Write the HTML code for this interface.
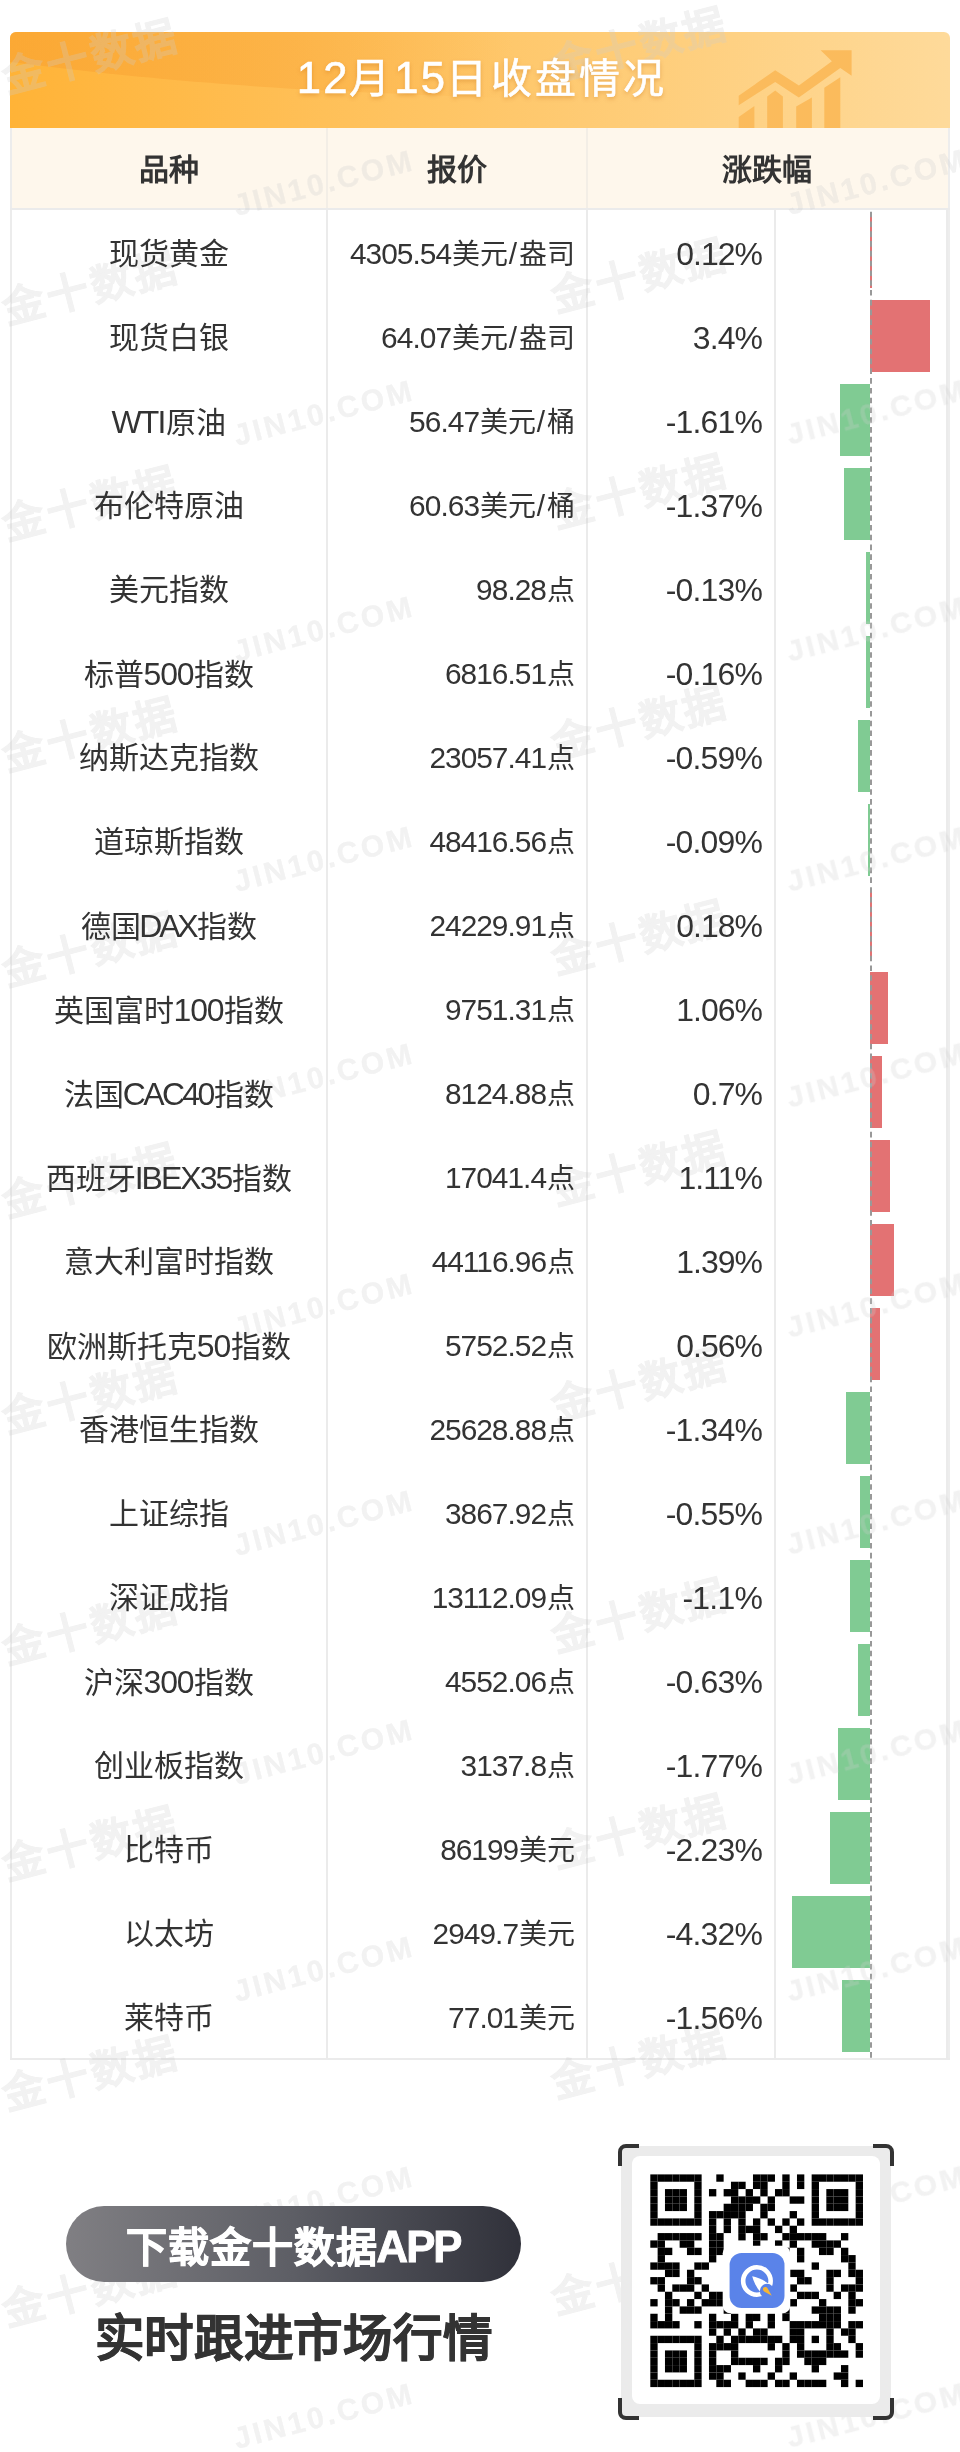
<!DOCTYPE html>
<html lang="zh-CN">
<head>
<meta charset="utf-8">
<title>12月15日收盘情况</title>
<style>
html,body{margin:0;padding:0;background:#fff;}
body{width:960px;height:2452px;position:relative;overflow:hidden;font-family:"Liberation Sans",sans-serif;color:#333;}
.abs{position:absolute;}
#hdr{position:absolute;left:10px;top:32px;width:940px;height:96px;border-radius:6px 6px 0 0;overflow:hidden;}
#hdr svg{position:absolute;left:0;top:0;}
#title{position:absolute;z-index:2;left:1.5px;top:-2.5px;width:940px;height:96px;line-height:96px;text-align:center;color:#fff;font-size:41px;font-weight:500;-webkit-text-stroke:0.6px #fff;text-shadow:0 2px 4px rgba(180,90,0,0.35);}
#thead{position:absolute;left:10px;top:128px;width:940px;height:80px;background:#FEF7EC;}
.th{position:absolute;z-index:2;top:130px;height:80px;line-height:80px;text-align:center;font-size:30px;font-weight:bold;color:#333;}
.c1,.c2,.c3{position:absolute;z-index:2;height:84px;line-height:84px;font-size:30px;color:#333;white-space:nowrap;}
.c1{left:12px;width:314px;text-align:center;}
.c2{left:329.5px;width:245px;text-align:right;font-size:28px;}
.c3{left:589.5px;width:173px;text-align:right;}
.vl{position:absolute;width:2px;background:#EBEBEB;}
.hl{position:absolute;height:2px;background:#EBEBEB;}
.bar{position:absolute;height:72px;}
.bar.g{background:#80CB93;}
.bar.r{background:#E37273;}
#pill{position:absolute;z-index:3;left:66px;top:2206px;width:455px;height:76px;border-radius:38px;background:linear-gradient(90deg,#807f83 0%,#5d5e65 50%,#30313a 100%);}
#pilltxt{position:absolute;z-index:3;left:66px;top:2209px;width:455px;height:76px;color:#fff;font-size:41px;font-weight:bold;-webkit-text-stroke:0.9px #fff;text-align:center;line-height:76px;}
#slogan{position:absolute;z-index:3;left:66px;top:2304px;width:455px;height:70px;line-height:70px;text-align:center;font-size:49.5px;font-weight:bold;-webkit-text-stroke:0.6px #333;color:#333;letter-spacing:0.7px;}
.wm{position:absolute;width:0;height:0;z-index:1;}
.wm span{position:absolute;left:0;top:0;transform:translate(-50%,-50%) rotate(-14.5deg);white-space:nowrap;font-weight:bold;color:#CDCDCD;opacity:0.27;-webkit-text-stroke:0.8px #CDCDCD;}
.wm1 span{font-size:42px;letter-spacing:3px;}
.wm2 span{font-size:30px;letter-spacing:3px;-webkit-text-stroke:0.3px #CDCDCD;}
</style>
</head>
<body>
<div id="root" style="position:absolute;left:0;top:0;width:960px;height:2452px;will-change:transform">
<div id="hdr">
<svg width="940" height="96" viewBox="0 0 940 96">
<defs>
<linearGradient id="hg" x1="0" y1="0" x2="1" y2="0">
<stop offset="0" stop-color="#FFB337"/>
<stop offset="1" stop-color="#FEDA9A"/>
</linearGradient>
<linearGradient id="wg" x1="0" y1="0" x2="1" y2="0">
<stop offset="0" stop-color="#F8A032" stop-opacity="0.55"/>
<stop offset="0.4" stop-color="#F8A032" stop-opacity="0.35"/>
<stop offset="0.7" stop-color="#F8A032" stop-opacity="0"/>
</linearGradient>
</defs>
<rect width="940" height="96" fill="url(#hg)"/>
<path d="M0 0 H720 V72 C600 70 420 64 290 57.2 C190 51 110 44 0 30 Z" fill="url(#wg)"/>
<g fill="#FBBB5C" transform="translate(-10,-32)">
<polygon points="738.7,95.7 775.2,70.2 798.9,85.5 831.9,61.2 820.6,50.2 851.6,50.2 851.6,75.7 840.3,68.1 798.8,97.4 775.2,81.9 738.7,105.2"/>
<polygon points="738.7,116.9 754.4,106 754.4,128 738.7,128"/>
<polygon points="767.2,96.5 775.2,90.6 782.9,96.5 782.9,128 767.2,128"/>
<polygon points="796.2,106.4 811.9,97.6 811.9,128 796.2,128"/>
<polygon points="824.3,87.8 840.3,77.2 840.3,128 824.3,128"/>
</g>
</svg>
<div id="title"><span style="font-size:43.68px;letter-spacing:2.33px;margin-left:1.16px;margin-right:-1.16px">12</span><span style="letter-spacing:3.25px">月</span><span style="font-size:43.68px;letter-spacing:2.33px;margin-left:1.16px;margin-right:-1.16px">15</span><span style="letter-spacing:3.25px">日收盘情况</span></div>
</div>
<div id="thead"></div>
<div class="th" style="left:12px;width:314px">品种</div>
<div class="th" style="left:328px;width:258px">报价</div>
<div class="th" style="left:588px;width:358px">涨跌幅</div>
<div class="c1" style="top:212px">现货黄金</div><div class="c2" style="top:212px"><span style="font-size:29.83px;letter-spacing:-0.97px;margin-left:-0.49px;margin-right:0.49px">4305.54</span>美元<span style="font-size:29.83px;letter-spacing:2.69px;margin-left:1.34px;margin-right:-1.34px">/</span>盎司</div><div class="c3" style="top:212px"><span style="font-size:31.96px;letter-spacing:-0.94px;margin-left:-0.47px;margin-right:0.47px">0.12%</span></div>
<div class="c1" style="top:296px">现货白银</div><div class="c2" style="top:296px"><span style="font-size:29.83px;letter-spacing:-0.94px;margin-left:-0.47px;margin-right:0.47px">64.07</span>美元<span style="font-size:29.83px;letter-spacing:2.69px;margin-left:1.34px;margin-right:-1.34px">/</span>盎司</div><div class="c3" style="top:296px"><span style="font-size:31.96px;letter-spacing:-0.90px;margin-left:-0.45px;margin-right:0.45px">3.4%</span></div>
<div class="c1" style="top:380px"><span style="font-size:31.96px;letter-spacing:-1.82px;margin-left:-0.91px;margin-right:0.91px">WTI</span>原油</div><div class="c2" style="top:380px"><span style="font-size:29.83px;letter-spacing:-0.94px;margin-left:-0.47px;margin-right:0.47px">56.47</span>美元<span style="font-size:29.83px;letter-spacing:2.69px;margin-left:1.34px;margin-right:-1.34px">/</span>桶</div><div class="c3" style="top:380px"><span style="font-size:31.96px;letter-spacing:-0.82px;margin-left:-0.41px;margin-right:0.41px">-1.61%</span></div>
<div class="c1" style="top:464px">布伦特原油</div><div class="c2" style="top:464px"><span style="font-size:29.83px;letter-spacing:-0.94px;margin-left:-0.47px;margin-right:0.47px">60.63</span>美元<span style="font-size:29.83px;letter-spacing:2.69px;margin-left:1.34px;margin-right:-1.34px">/</span>桶</div><div class="c3" style="top:464px"><span style="font-size:31.96px;letter-spacing:-0.82px;margin-left:-0.41px;margin-right:0.41px">-1.37%</span></div>
<div class="c1" style="top:548px">美元指数</div><div class="c2" style="top:548px"><span style="font-size:29.83px;letter-spacing:-0.94px;margin-left:-0.47px;margin-right:0.47px">98.28</span>点</div><div class="c3" style="top:548px"><span style="font-size:31.96px;letter-spacing:-0.82px;margin-left:-0.41px;margin-right:0.41px">-0.13%</span></div>
<div class="c1" style="top:632px">标普<span style="font-size:31.96px;letter-spacing:-1.13px;margin-left:-0.56px;margin-right:0.56px">500</span>指数</div><div class="c2" style="top:632px"><span style="font-size:29.83px;letter-spacing:-0.97px;margin-left:-0.49px;margin-right:0.49px">6816.51</span>点</div><div class="c3" style="top:632px"><span style="font-size:31.96px;letter-spacing:-0.82px;margin-left:-0.41px;margin-right:0.41px">-0.16%</span></div>
<div class="c1" style="top:716px">纳斯达克指数</div><div class="c2" style="top:716px"><span style="font-size:29.83px;letter-spacing:-0.98px;margin-left:-0.49px;margin-right:0.49px">23057.41</span>点</div><div class="c3" style="top:716px"><span style="font-size:31.96px;letter-spacing:-0.82px;margin-left:-0.41px;margin-right:0.41px">-0.59%</span></div>
<div class="c1" style="top:800px">道琼斯指数</div><div class="c2" style="top:800px"><span style="font-size:29.83px;letter-spacing:-0.98px;margin-left:-0.49px;margin-right:0.49px">48416.56</span>点</div><div class="c3" style="top:800px"><span style="font-size:31.96px;letter-spacing:-0.82px;margin-left:-0.41px;margin-right:0.41px">-0.09%</span></div>
<div class="c1" style="top:884px">德国<span style="font-size:31.96px;letter-spacing:-3.22px;margin-left:-1.61px;margin-right:1.61px">DAX</span>指数</div><div class="c2" style="top:884px"><span style="font-size:29.83px;letter-spacing:-0.98px;margin-left:-0.49px;margin-right:0.49px">24229.91</span>点</div><div class="c3" style="top:884px"><span style="font-size:31.96px;letter-spacing:-0.94px;margin-left:-0.47px;margin-right:0.47px">0.18%</span></div>
<div class="c1" style="top:968px">英国富时<span style="font-size:31.96px;letter-spacing:-1.13px;margin-left:-0.56px;margin-right:0.56px">100</span>指数</div><div class="c2" style="top:968px"><span style="font-size:29.83px;letter-spacing:-0.97px;margin-left:-0.49px;margin-right:0.49px">9751.31</span>点</div><div class="c3" style="top:968px"><span style="font-size:31.96px;letter-spacing:-0.94px;margin-left:-0.47px;margin-right:0.47px">1.06%</span></div>
<div class="c1" style="top:1052px">法国<span style="font-size:31.96px;letter-spacing:-2.64px;margin-left:-1.32px;margin-right:1.32px">CAC40</span>指数</div><div class="c2" style="top:1052px"><span style="font-size:29.83px;letter-spacing:-0.97px;margin-left:-0.49px;margin-right:0.49px">8124.88</span>点</div><div class="c3" style="top:1052px"><span style="font-size:31.96px;letter-spacing:-0.90px;margin-left:-0.45px;margin-right:0.45px">0.7%</span></div>
<div class="c1" style="top:1136px">西班牙<span style="font-size:31.96px;letter-spacing:-1.95px;margin-left:-0.98px;margin-right:0.98px">IBEX35</span>指数</div><div class="c2" style="top:1136px"><span style="font-size:29.83px;letter-spacing:-0.97px;margin-left:-0.49px;margin-right:0.49px">17041.4</span>点</div><div class="c3" style="top:1136px"><span style="font-size:31.96px;letter-spacing:-0.94px;margin-left:-0.47px;margin-right:0.47px">1.11%</span></div>
<div class="c1" style="top:1220px">意大利富时指数</div><div class="c2" style="top:1220px"><span style="font-size:29.83px;letter-spacing:-0.98px;margin-left:-0.49px;margin-right:0.49px">44116.96</span>点</div><div class="c3" style="top:1220px"><span style="font-size:31.96px;letter-spacing:-0.94px;margin-left:-0.47px;margin-right:0.47px">1.39%</span></div>
<div class="c1" style="top:1304px">欧洲斯托克<span style="font-size:31.96px;letter-spacing:-1.13px;margin-left:-0.56px;margin-right:0.56px">50</span>指数</div><div class="c2" style="top:1304px"><span style="font-size:29.83px;letter-spacing:-0.97px;margin-left:-0.49px;margin-right:0.49px">5752.52</span>点</div><div class="c3" style="top:1304px"><span style="font-size:31.96px;letter-spacing:-0.94px;margin-left:-0.47px;margin-right:0.47px">0.56%</span></div>
<div class="c1" style="top:1388px">香港恒生指数</div><div class="c2" style="top:1388px"><span style="font-size:29.83px;letter-spacing:-0.98px;margin-left:-0.49px;margin-right:0.49px">25628.88</span>点</div><div class="c3" style="top:1388px"><span style="font-size:31.96px;letter-spacing:-0.82px;margin-left:-0.41px;margin-right:0.41px">-1.34%</span></div>
<div class="c1" style="top:1472px">上证综指</div><div class="c2" style="top:1472px"><span style="font-size:29.83px;letter-spacing:-0.97px;margin-left:-0.49px;margin-right:0.49px">3867.92</span>点</div><div class="c3" style="top:1472px"><span style="font-size:31.96px;letter-spacing:-0.82px;margin-left:-0.41px;margin-right:0.41px">-0.55%</span></div>
<div class="c1" style="top:1556px">深证成指</div><div class="c2" style="top:1556px"><span style="font-size:29.83px;letter-spacing:-0.98px;margin-left:-0.49px;margin-right:0.49px">13112.09</span>点</div><div class="c3" style="top:1556px"><span style="font-size:31.96px;letter-spacing:-0.76px;margin-left:-0.38px;margin-right:0.38px">-1.1%</span></div>
<div class="c1" style="top:1640px">沪深<span style="font-size:31.96px;letter-spacing:-1.13px;margin-left:-0.56px;margin-right:0.56px">300</span>指数</div><div class="c2" style="top:1640px"><span style="font-size:29.83px;letter-spacing:-0.97px;margin-left:-0.49px;margin-right:0.49px">4552.06</span>点</div><div class="c3" style="top:1640px"><span style="font-size:31.96px;letter-spacing:-0.82px;margin-left:-0.41px;margin-right:0.41px">-0.63%</span></div>
<div class="c1" style="top:1724px">创业板指数</div><div class="c2" style="top:1724px"><span style="font-size:29.83px;letter-spacing:-0.96px;margin-left:-0.48px;margin-right:0.48px">3137.8</span>点</div><div class="c3" style="top:1724px"><span style="font-size:31.96px;letter-spacing:-0.82px;margin-left:-0.41px;margin-right:0.41px">-1.77%</span></div>
<div class="c1" style="top:1808px">比特币</div><div class="c2" style="top:1808px"><span style="font-size:29.83px;letter-spacing:-1.05px;margin-left:-0.53px;margin-right:0.53px">86199</span>美元</div><div class="c3" style="top:1808px"><span style="font-size:31.96px;letter-spacing:-0.82px;margin-left:-0.41px;margin-right:0.41px">-2.23%</span></div>
<div class="c1" style="top:1892px">以太坊</div><div class="c2" style="top:1892px"><span style="font-size:29.83px;letter-spacing:-0.96px;margin-left:-0.48px;margin-right:0.48px">2949.7</span>美元</div><div class="c3" style="top:1892px"><span style="font-size:31.96px;letter-spacing:-0.82px;margin-left:-0.41px;margin-right:0.41px">-4.32%</span></div>
<div class="c1" style="top:1976px">莱特币</div><div class="c2" style="top:1976px"><span style="font-size:29.83px;letter-spacing:-0.94px;margin-left:-0.47px;margin-right:0.47px">77.01</span>美元</div><div class="c3" style="top:1976px"><span style="font-size:31.96px;letter-spacing:-0.82px;margin-left:-0.41px;margin-right:0.41px">-1.56%</span></div>
<div class="bar r" style="top:216px;left:870px;width:2px"></div>
<div class="bar r" style="top:300px;left:870px;width:60px"></div>
<div class="bar g" style="top:384px;left:840px;width:30px"></div>
<div class="bar g" style="top:468px;left:844px;width:26px"></div>
<div class="bar g" style="top:552px;left:866px;width:4px"></div>
<div class="bar g" style="top:636px;left:866px;width:4px"></div>
<div class="bar g" style="top:720px;left:858px;width:12px"></div>
<div class="bar g" style="top:804px;left:868px;width:2px"></div>
<div class="bar r" style="top:888px;left:870px;width:2px"></div>
<div class="bar r" style="top:972px;left:870px;width:18px"></div>
<div class="bar r" style="top:1056px;left:870px;width:12px"></div>
<div class="bar r" style="top:1140px;left:870px;width:20px"></div>
<div class="bar r" style="top:1224px;left:870px;width:24px"></div>
<div class="bar r" style="top:1308px;left:870px;width:10px"></div>
<div class="bar g" style="top:1392px;left:846px;width:24px"></div>
<div class="bar g" style="top:1476px;left:860px;width:10px"></div>
<div class="bar g" style="top:1560px;left:850px;width:20px"></div>
<div class="bar g" style="top:1644px;left:858px;width:12px"></div>
<div class="bar g" style="top:1728px;left:838px;width:32px"></div>
<div class="bar g" style="top:1812px;left:830px;width:40px"></div>
<div class="bar g" style="top:1896px;left:792px;width:78px"></div>
<div class="bar g" style="top:1980px;left:842px;width:28px"></div>
<svg class="abs" style="left:869px;top:210px" width="4" height="1848"><line x1="2" y1="0" x2="2" y2="1848" stroke="#999" stroke-width="2" stroke-dasharray="5.6 4.189" stroke-dashoffset="8.089"/></svg>
<!-- table lines -->
<div class="vl" style="left:10px;top:128px;height:1932px;background:#ECECEC"></div>
<div class="vl" style="left:946px;top:208px;height:1852px;background:#EBEBEB"></div>
<div class="vl" style="left:948px;top:128px;height:1932px;background:#EDEDED"></div>
<div class="vl" style="left:326px;top:128px;height:80px;background:#F3EEE6"></div>
<div class="vl" style="left:586px;top:128px;height:80px;background:#F3EEE6"></div>
<div class="vl" style="left:326px;top:210px;height:1848px"></div>
<div class="vl" style="left:586px;top:210px;height:1848px"></div>
<div class="vl" style="left:774px;top:210px;height:1848px"></div>
<div class="hl" style="left:10px;top:208px;width:940px"></div>
<div class="hl" style="left:10px;top:2058px;width:940px"></div>
<div class="wm wm1" style="left:90.4px;top:53.2px"><span>金十数据</span></div>
<div class="wm wm1" style="left:638.8px;top:41.1px"><span>金十数据</span></div>
<div class="wm wm1" style="left:90.4px;top:499.8px"><span>金十数据</span></div>
<div class="wm wm1" style="left:638.8px;top:487.7px"><span>金十数据</span></div>
<div class="wm wm1" style="left:90.4px;top:946.4px"><span>金十数据</span></div>
<div class="wm wm1" style="left:638.8px;top:934.3px"><span>金十数据</span></div>
<div class="wm wm1" style="left:90.4px;top:1393.0px"><span>金十数据</span></div>
<div class="wm wm1" style="left:638.8px;top:1380.9px"><span>金十数据</span></div>
<div class="wm wm1" style="left:90.4px;top:1839.6px"><span>金十数据</span></div>
<div class="wm wm1" style="left:638.8px;top:1827.5px"><span>金十数据</span></div>
<div class="wm wm1" style="left:90.4px;top:2286.2px"><span>金十数据</span></div>
<div class="wm wm1" style="left:638.8px;top:2274.1px"><span>金十数据</span></div>
<div class="wm wm1" style="left:90.4px;top:284.0px"><span>金十数据</span></div>
<div class="wm wm1" style="left:638.8px;top:271.9px"><span>金十数据</span></div>
<div class="wm wm1" style="left:90.4px;top:730.6px"><span>金十数据</span></div>
<div class="wm wm1" style="left:638.8px;top:718.5px"><span>金十数据</span></div>
<div class="wm wm1" style="left:90.4px;top:1177.2px"><span>金十数据</span></div>
<div class="wm wm1" style="left:638.8px;top:1165.1px"><span>金十数据</span></div>
<div class="wm wm1" style="left:90.4px;top:1623.8px"><span>金十数据</span></div>
<div class="wm wm1" style="left:638.8px;top:1611.7px"><span>金十数据</span></div>
<div class="wm wm1" style="left:90.4px;top:2070.4px"><span>金十数据</span></div>
<div class="wm wm1" style="left:638.8px;top:2058.3px"><span>金十数据</span></div>
<div class="wm wm1" style="left:638.8px;top:2504.9px"><span>金十数据</span></div>
<div class="wm wm2" style="left:323.6px;top:182.7px"><span>JIN10.COM</span></div>
<div class="wm wm2" style="left:877.1px;top:182.1px"><span>JIN10.COM</span></div>
<div class="wm wm2" style="left:323.6px;top:629.3px"><span>JIN10.COM</span></div>
<div class="wm wm2" style="left:877.1px;top:628.7px"><span>JIN10.COM</span></div>
<div class="wm wm2" style="left:323.6px;top:1075.9px"><span>JIN10.COM</span></div>
<div class="wm wm2" style="left:877.1px;top:1075.3px"><span>JIN10.COM</span></div>
<div class="wm wm2" style="left:323.6px;top:1522.5px"><span>JIN10.COM</span></div>
<div class="wm wm2" style="left:877.1px;top:1521.9px"><span>JIN10.COM</span></div>
<div class="wm wm2" style="left:323.6px;top:1969.1px"><span>JIN10.COM</span></div>
<div class="wm wm2" style="left:877.1px;top:1968.5px"><span>JIN10.COM</span></div>
<div class="wm wm2" style="left:323.6px;top:2415.7px"><span>JIN10.COM</span></div>
<div class="wm wm2" style="left:877.1px;top:2415.1px"><span>JIN10.COM</span></div>
<div class="wm wm2" style="left:323.6px;top:-34.0px"><span>JIN10.COM</span></div>
<div class="wm wm2" style="left:877.1px;top:-34.6px"><span>JIN10.COM</span></div>
<div class="wm wm2" style="left:323.6px;top:412.6px"><span>JIN10.COM</span></div>
<div class="wm wm2" style="left:877.1px;top:412.0px"><span>JIN10.COM</span></div>
<div class="wm wm2" style="left:323.6px;top:859.2px"><span>JIN10.COM</span></div>
<div class="wm wm2" style="left:877.1px;top:858.6px"><span>JIN10.COM</span></div>
<div class="wm wm2" style="left:323.6px;top:1305.8px"><span>JIN10.COM</span></div>
<div class="wm wm2" style="left:877.1px;top:1305.2px"><span>JIN10.COM</span></div>
<div class="wm wm2" style="left:323.6px;top:1752.4px"><span>JIN10.COM</span></div>
<div class="wm wm2" style="left:877.1px;top:1751.8px"><span>JIN10.COM</span></div>
<div class="wm wm2" style="left:323.6px;top:2199.0px"><span>JIN10.COM</span></div>
<div class="wm wm2" style="left:877.1px;top:2198.4px"><span>JIN10.COM</span></div>
<!-- bottom -->
<div id="pill"></div><div id="pilltxt"><span style="letter-spacing:1.00px">下载金十数据</span><span style="font-size:43.68px;letter-spacing:-1.95px;margin-left:-0.97px;margin-right:0.97px">APP</span></div>
<div id="slogan">实时跟进市场行情</div>
<svg class="abs" style="left:0;top:0;z-index:3" width="960" height="2452" viewBox="0 0 960 2452">
<rect x="621" y="2146" width="270" height="271" fill="#EBEBEB"/>
<rect x="632" y="2156" width="248" height="248" rx="8" fill="#fff"/>
<g fill="none" stroke="#333" stroke-width="4" stroke-linecap="butt">
<path d="M620 2166 V2152 a6 6 0 0 1 6 -6 H639"/>
<path d="M873 2146 H886 a6 6 0 0 1 6 6 V2166"/>
<path d="M620 2398 V2412 a6 6 0 0 0 6 6 H639"/>
<path d="M873 2418 H886 a6 6 0 0 0 6 -6 V2398"/>
</g>
<g fill="#000"><rect x="650.30" y="2174.40" width="7.334" height="7.334"/><rect x="657.63" y="2174.40" width="7.334" height="7.334"/><rect x="664.97" y="2174.40" width="7.334" height="7.334"/><rect x="672.30" y="2174.40" width="7.334" height="7.334"/><rect x="679.64" y="2174.40" width="7.334" height="7.334"/><rect x="686.97" y="2174.40" width="7.334" height="7.334"/><rect x="694.30" y="2174.40" width="7.334" height="7.334"/><rect x="716.31" y="2174.40" width="7.334" height="7.334"/><rect x="752.98" y="2174.40" width="7.334" height="7.334"/><rect x="760.31" y="2174.40" width="7.334" height="7.334"/><rect x="767.64" y="2174.40" width="7.334" height="7.334"/><rect x="782.31" y="2174.40" width="7.334" height="7.334"/><rect x="796.98" y="2174.40" width="7.334" height="7.334"/><rect x="811.65" y="2174.40" width="7.334" height="7.334"/><rect x="818.98" y="2174.40" width="7.334" height="7.334"/><rect x="826.32" y="2174.40" width="7.334" height="7.334"/><rect x="833.65" y="2174.40" width="7.334" height="7.334"/><rect x="840.98" y="2174.40" width="7.334" height="7.334"/><rect x="848.32" y="2174.40" width="7.334" height="7.334"/><rect x="855.65" y="2174.40" width="7.334" height="7.334"/><rect x="650.30" y="2181.73" width="7.334" height="7.334"/><rect x="694.30" y="2181.73" width="7.334" height="7.334"/><rect x="730.97" y="2181.73" width="7.334" height="7.334"/><rect x="738.31" y="2181.73" width="7.334" height="7.334"/><rect x="752.98" y="2181.73" width="7.334" height="7.334"/><rect x="760.31" y="2181.73" width="7.334" height="7.334"/><rect x="782.31" y="2181.73" width="7.334" height="7.334"/><rect x="796.98" y="2181.73" width="7.334" height="7.334"/><rect x="811.65" y="2181.73" width="7.334" height="7.334"/><rect x="855.65" y="2181.73" width="7.334" height="7.334"/><rect x="650.30" y="2189.07" width="7.334" height="7.334"/><rect x="664.97" y="2189.07" width="7.334" height="7.334"/><rect x="672.30" y="2189.07" width="7.334" height="7.334"/><rect x="679.64" y="2189.07" width="7.334" height="7.334"/><rect x="694.30" y="2189.07" width="7.334" height="7.334"/><rect x="708.97" y="2189.07" width="7.334" height="7.334"/><rect x="723.64" y="2189.07" width="7.334" height="7.334"/><rect x="730.97" y="2189.07" width="7.334" height="7.334"/><rect x="745.64" y="2189.07" width="7.334" height="7.334"/><rect x="760.31" y="2189.07" width="7.334" height="7.334"/><rect x="774.98" y="2189.07" width="7.334" height="7.334"/><rect x="782.31" y="2189.07" width="7.334" height="7.334"/><rect x="811.65" y="2189.07" width="7.334" height="7.334"/><rect x="826.32" y="2189.07" width="7.334" height="7.334"/><rect x="833.65" y="2189.07" width="7.334" height="7.334"/><rect x="840.98" y="2189.07" width="7.334" height="7.334"/><rect x="855.65" y="2189.07" width="7.334" height="7.334"/><rect x="650.30" y="2196.40" width="7.334" height="7.334"/><rect x="664.97" y="2196.40" width="7.334" height="7.334"/><rect x="672.30" y="2196.40" width="7.334" height="7.334"/><rect x="679.64" y="2196.40" width="7.334" height="7.334"/><rect x="694.30" y="2196.40" width="7.334" height="7.334"/><rect x="730.97" y="2196.40" width="7.334" height="7.334"/><rect x="738.31" y="2196.40" width="7.334" height="7.334"/><rect x="745.64" y="2196.40" width="7.334" height="7.334"/><rect x="752.98" y="2196.40" width="7.334" height="7.334"/><rect x="767.64" y="2196.40" width="7.334" height="7.334"/><rect x="789.65" y="2196.40" width="7.334" height="7.334"/><rect x="796.98" y="2196.40" width="7.334" height="7.334"/><rect x="811.65" y="2196.40" width="7.334" height="7.334"/><rect x="826.32" y="2196.40" width="7.334" height="7.334"/><rect x="833.65" y="2196.40" width="7.334" height="7.334"/><rect x="840.98" y="2196.40" width="7.334" height="7.334"/><rect x="855.65" y="2196.40" width="7.334" height="7.334"/><rect x="650.30" y="2203.74" width="7.334" height="7.334"/><rect x="664.97" y="2203.74" width="7.334" height="7.334"/><rect x="672.30" y="2203.74" width="7.334" height="7.334"/><rect x="679.64" y="2203.74" width="7.334" height="7.334"/><rect x="694.30" y="2203.74" width="7.334" height="7.334"/><rect x="723.64" y="2203.74" width="7.334" height="7.334"/><rect x="730.97" y="2203.74" width="7.334" height="7.334"/><rect x="738.31" y="2203.74" width="7.334" height="7.334"/><rect x="745.64" y="2203.74" width="7.334" height="7.334"/><rect x="760.31" y="2203.74" width="7.334" height="7.334"/><rect x="767.64" y="2203.74" width="7.334" height="7.334"/><rect x="811.65" y="2203.74" width="7.334" height="7.334"/><rect x="826.32" y="2203.74" width="7.334" height="7.334"/><rect x="833.65" y="2203.74" width="7.334" height="7.334"/><rect x="840.98" y="2203.74" width="7.334" height="7.334"/><rect x="855.65" y="2203.74" width="7.334" height="7.334"/><rect x="650.30" y="2211.07" width="7.334" height="7.334"/><rect x="694.30" y="2211.07" width="7.334" height="7.334"/><rect x="708.97" y="2211.07" width="7.334" height="7.334"/><rect x="716.31" y="2211.07" width="7.334" height="7.334"/><rect x="723.64" y="2211.07" width="7.334" height="7.334"/><rect x="730.97" y="2211.07" width="7.334" height="7.334"/><rect x="738.31" y="2211.07" width="7.334" height="7.334"/><rect x="760.31" y="2211.07" width="7.334" height="7.334"/><rect x="789.65" y="2211.07" width="7.334" height="7.334"/><rect x="811.65" y="2211.07" width="7.334" height="7.334"/><rect x="855.65" y="2211.07" width="7.334" height="7.334"/><rect x="650.30" y="2218.40" width="7.334" height="7.334"/><rect x="657.63" y="2218.40" width="7.334" height="7.334"/><rect x="664.97" y="2218.40" width="7.334" height="7.334"/><rect x="672.30" y="2218.40" width="7.334" height="7.334"/><rect x="679.64" y="2218.40" width="7.334" height="7.334"/><rect x="686.97" y="2218.40" width="7.334" height="7.334"/><rect x="694.30" y="2218.40" width="7.334" height="7.334"/><rect x="708.97" y="2218.40" width="7.334" height="7.334"/><rect x="723.64" y="2218.40" width="7.334" height="7.334"/><rect x="738.31" y="2218.40" width="7.334" height="7.334"/><rect x="752.98" y="2218.40" width="7.334" height="7.334"/><rect x="767.64" y="2218.40" width="7.334" height="7.334"/><rect x="782.31" y="2218.40" width="7.334" height="7.334"/><rect x="796.98" y="2218.40" width="7.334" height="7.334"/><rect x="811.65" y="2218.40" width="7.334" height="7.334"/><rect x="818.98" y="2218.40" width="7.334" height="7.334"/><rect x="826.32" y="2218.40" width="7.334" height="7.334"/><rect x="833.65" y="2218.40" width="7.334" height="7.334"/><rect x="840.98" y="2218.40" width="7.334" height="7.334"/><rect x="848.32" y="2218.40" width="7.334" height="7.334"/><rect x="855.65" y="2218.40" width="7.334" height="7.334"/><rect x="708.97" y="2225.74" width="7.334" height="7.334"/><rect x="723.64" y="2225.74" width="7.334" height="7.334"/><rect x="738.31" y="2225.74" width="7.334" height="7.334"/><rect x="745.64" y="2225.74" width="7.334" height="7.334"/><rect x="752.98" y="2225.74" width="7.334" height="7.334"/><rect x="774.98" y="2225.74" width="7.334" height="7.334"/><rect x="789.65" y="2225.74" width="7.334" height="7.334"/><rect x="657.63" y="2233.07" width="7.334" height="7.334"/><rect x="664.97" y="2233.07" width="7.334" height="7.334"/><rect x="672.30" y="2233.07" width="7.334" height="7.334"/><rect x="679.64" y="2233.07" width="7.334" height="7.334"/><rect x="686.97" y="2233.07" width="7.334" height="7.334"/><rect x="694.30" y="2233.07" width="7.334" height="7.334"/><rect x="708.97" y="2233.07" width="7.334" height="7.334"/><rect x="716.31" y="2233.07" width="7.334" height="7.334"/><rect x="738.31" y="2233.07" width="7.334" height="7.334"/><rect x="752.98" y="2233.07" width="7.334" height="7.334"/><rect x="760.31" y="2233.07" width="7.334" height="7.334"/><rect x="782.31" y="2233.07" width="7.334" height="7.334"/><rect x="789.65" y="2233.07" width="7.334" height="7.334"/><rect x="796.98" y="2233.07" width="7.334" height="7.334"/><rect x="804.31" y="2233.07" width="7.334" height="7.334"/><rect x="811.65" y="2233.07" width="7.334" height="7.334"/><rect x="818.98" y="2233.07" width="7.334" height="7.334"/><rect x="840.98" y="2233.07" width="7.334" height="7.334"/><rect x="650.30" y="2240.41" width="7.334" height="7.334"/><rect x="657.63" y="2240.41" width="7.334" height="7.334"/><rect x="679.64" y="2240.41" width="7.334" height="7.334"/><rect x="686.97" y="2240.41" width="7.334" height="7.334"/><rect x="708.97" y="2240.41" width="7.334" height="7.334"/><rect x="716.31" y="2240.41" width="7.334" height="7.334"/><rect x="752.98" y="2240.41" width="7.334" height="7.334"/><rect x="774.98" y="2240.41" width="7.334" height="7.334"/><rect x="789.65" y="2240.41" width="7.334" height="7.334"/><rect x="811.65" y="2240.41" width="7.334" height="7.334"/><rect x="818.98" y="2240.41" width="7.334" height="7.334"/><rect x="826.32" y="2240.41" width="7.334" height="7.334"/><rect x="833.65" y="2240.41" width="7.334" height="7.334"/><rect x="657.63" y="2247.74" width="7.334" height="7.334"/><rect x="664.97" y="2247.74" width="7.334" height="7.334"/><rect x="686.97" y="2247.74" width="7.334" height="7.334"/><rect x="694.30" y="2247.74" width="7.334" height="7.334"/><rect x="708.97" y="2247.74" width="7.334" height="7.334"/><rect x="716.31" y="2247.74" width="7.334" height="7.334"/><rect x="782.31" y="2247.74" width="7.334" height="7.334"/><rect x="796.98" y="2247.74" width="7.334" height="7.334"/><rect x="818.98" y="2247.74" width="7.334" height="7.334"/><rect x="826.32" y="2247.74" width="7.334" height="7.334"/><rect x="840.98" y="2247.74" width="7.334" height="7.334"/><rect x="657.63" y="2255.07" width="7.334" height="7.334"/><rect x="708.97" y="2255.07" width="7.334" height="7.334"/><rect x="796.98" y="2255.07" width="7.334" height="7.334"/><rect x="840.98" y="2255.07" width="7.334" height="7.334"/><rect x="848.32" y="2255.07" width="7.334" height="7.334"/><rect x="650.30" y="2262.41" width="7.334" height="7.334"/><rect x="657.63" y="2262.41" width="7.334" height="7.334"/><rect x="664.97" y="2262.41" width="7.334" height="7.334"/><rect x="672.30" y="2262.41" width="7.334" height="7.334"/><rect x="694.30" y="2262.41" width="7.334" height="7.334"/><rect x="701.64" y="2262.41" width="7.334" height="7.334"/><rect x="811.65" y="2262.41" width="7.334" height="7.334"/><rect x="848.32" y="2262.41" width="7.334" height="7.334"/><rect x="664.97" y="2269.74" width="7.334" height="7.334"/><rect x="672.30" y="2269.74" width="7.334" height="7.334"/><rect x="686.97" y="2269.74" width="7.334" height="7.334"/><rect x="789.65" y="2269.74" width="7.334" height="7.334"/><rect x="796.98" y="2269.74" width="7.334" height="7.334"/><rect x="826.32" y="2269.74" width="7.334" height="7.334"/><rect x="833.65" y="2269.74" width="7.334" height="7.334"/><rect x="848.32" y="2269.74" width="7.334" height="7.334"/><rect x="855.65" y="2269.74" width="7.334" height="7.334"/><rect x="650.30" y="2277.08" width="7.334" height="7.334"/><rect x="657.63" y="2277.08" width="7.334" height="7.334"/><rect x="686.97" y="2277.08" width="7.334" height="7.334"/><rect x="694.30" y="2277.08" width="7.334" height="7.334"/><rect x="796.98" y="2277.08" width="7.334" height="7.334"/><rect x="804.31" y="2277.08" width="7.334" height="7.334"/><rect x="826.32" y="2277.08" width="7.334" height="7.334"/><rect x="855.65" y="2277.08" width="7.334" height="7.334"/><rect x="657.63" y="2284.41" width="7.334" height="7.334"/><rect x="672.30" y="2284.41" width="7.334" height="7.334"/><rect x="679.64" y="2284.41" width="7.334" height="7.334"/><rect x="686.97" y="2284.41" width="7.334" height="7.334"/><rect x="701.64" y="2284.41" width="7.334" height="7.334"/><rect x="789.65" y="2284.41" width="7.334" height="7.334"/><rect x="826.32" y="2284.41" width="7.334" height="7.334"/><rect x="840.98" y="2284.41" width="7.334" height="7.334"/><rect x="848.32" y="2284.41" width="7.334" height="7.334"/><rect x="855.65" y="2284.41" width="7.334" height="7.334"/><rect x="664.97" y="2291.74" width="7.334" height="7.334"/><rect x="694.30" y="2291.74" width="7.334" height="7.334"/><rect x="708.97" y="2291.74" width="7.334" height="7.334"/><rect x="716.31" y="2291.74" width="7.334" height="7.334"/><rect x="796.98" y="2291.74" width="7.334" height="7.334"/><rect x="804.31" y="2291.74" width="7.334" height="7.334"/><rect x="811.65" y="2291.74" width="7.334" height="7.334"/><rect x="833.65" y="2291.74" width="7.334" height="7.334"/><rect x="848.32" y="2291.74" width="7.334" height="7.334"/><rect x="650.30" y="2299.08" width="7.334" height="7.334"/><rect x="664.97" y="2299.08" width="7.334" height="7.334"/><rect x="672.30" y="2299.08" width="7.334" height="7.334"/><rect x="686.97" y="2299.08" width="7.334" height="7.334"/><rect x="701.64" y="2299.08" width="7.334" height="7.334"/><rect x="708.97" y="2299.08" width="7.334" height="7.334"/><rect x="716.31" y="2299.08" width="7.334" height="7.334"/><rect x="789.65" y="2299.08" width="7.334" height="7.334"/><rect x="818.98" y="2299.08" width="7.334" height="7.334"/><rect x="848.32" y="2299.08" width="7.334" height="7.334"/><rect x="855.65" y="2299.08" width="7.334" height="7.334"/><rect x="664.97" y="2306.41" width="7.334" height="7.334"/><rect x="679.64" y="2306.41" width="7.334" height="7.334"/><rect x="686.97" y="2306.41" width="7.334" height="7.334"/><rect x="694.30" y="2306.41" width="7.334" height="7.334"/><rect x="723.64" y="2306.41" width="7.334" height="7.334"/><rect x="782.31" y="2306.41" width="7.334" height="7.334"/><rect x="811.65" y="2306.41" width="7.334" height="7.334"/><rect x="818.98" y="2306.41" width="7.334" height="7.334"/><rect x="826.32" y="2306.41" width="7.334" height="7.334"/><rect x="833.65" y="2306.41" width="7.334" height="7.334"/><rect x="848.32" y="2306.41" width="7.334" height="7.334"/><rect x="650.30" y="2313.75" width="7.334" height="7.334"/><rect x="664.97" y="2313.75" width="7.334" height="7.334"/><rect x="708.97" y="2313.75" width="7.334" height="7.334"/><rect x="730.97" y="2313.75" width="7.334" height="7.334"/><rect x="745.64" y="2313.75" width="7.334" height="7.334"/><rect x="752.98" y="2313.75" width="7.334" height="7.334"/><rect x="767.64" y="2313.75" width="7.334" height="7.334"/><rect x="782.31" y="2313.75" width="7.334" height="7.334"/><rect x="818.98" y="2313.75" width="7.334" height="7.334"/><rect x="826.32" y="2313.75" width="7.334" height="7.334"/><rect x="833.65" y="2313.75" width="7.334" height="7.334"/><rect x="650.30" y="2321.08" width="7.334" height="7.334"/><rect x="657.63" y="2321.08" width="7.334" height="7.334"/><rect x="664.97" y="2321.08" width="7.334" height="7.334"/><rect x="672.30" y="2321.08" width="7.334" height="7.334"/><rect x="694.30" y="2321.08" width="7.334" height="7.334"/><rect x="708.97" y="2321.08" width="7.334" height="7.334"/><rect x="716.31" y="2321.08" width="7.334" height="7.334"/><rect x="723.64" y="2321.08" width="7.334" height="7.334"/><rect x="730.97" y="2321.08" width="7.334" height="7.334"/><rect x="745.64" y="2321.08" width="7.334" height="7.334"/><rect x="767.64" y="2321.08" width="7.334" height="7.334"/><rect x="789.65" y="2321.08" width="7.334" height="7.334"/><rect x="796.98" y="2321.08" width="7.334" height="7.334"/><rect x="804.31" y="2321.08" width="7.334" height="7.334"/><rect x="811.65" y="2321.08" width="7.334" height="7.334"/><rect x="818.98" y="2321.08" width="7.334" height="7.334"/><rect x="826.32" y="2321.08" width="7.334" height="7.334"/><rect x="833.65" y="2321.08" width="7.334" height="7.334"/><rect x="848.32" y="2321.08" width="7.334" height="7.334"/><rect x="855.65" y="2321.08" width="7.334" height="7.334"/><rect x="708.97" y="2328.41" width="7.334" height="7.334"/><rect x="723.64" y="2328.41" width="7.334" height="7.334"/><rect x="738.31" y="2328.41" width="7.334" height="7.334"/><rect x="752.98" y="2328.41" width="7.334" height="7.334"/><rect x="760.31" y="2328.41" width="7.334" height="7.334"/><rect x="789.65" y="2328.41" width="7.334" height="7.334"/><rect x="796.98" y="2328.41" width="7.334" height="7.334"/><rect x="826.32" y="2328.41" width="7.334" height="7.334"/><rect x="840.98" y="2328.41" width="7.334" height="7.334"/><rect x="848.32" y="2328.41" width="7.334" height="7.334"/><rect x="650.30" y="2335.75" width="7.334" height="7.334"/><rect x="657.63" y="2335.75" width="7.334" height="7.334"/><rect x="664.97" y="2335.75" width="7.334" height="7.334"/><rect x="672.30" y="2335.75" width="7.334" height="7.334"/><rect x="679.64" y="2335.75" width="7.334" height="7.334"/><rect x="686.97" y="2335.75" width="7.334" height="7.334"/><rect x="694.30" y="2335.75" width="7.334" height="7.334"/><rect x="716.31" y="2335.75" width="7.334" height="7.334"/><rect x="730.97" y="2335.75" width="7.334" height="7.334"/><rect x="738.31" y="2335.75" width="7.334" height="7.334"/><rect x="745.64" y="2335.75" width="7.334" height="7.334"/><rect x="752.98" y="2335.75" width="7.334" height="7.334"/><rect x="760.31" y="2335.75" width="7.334" height="7.334"/><rect x="767.64" y="2335.75" width="7.334" height="7.334"/><rect x="774.98" y="2335.75" width="7.334" height="7.334"/><rect x="789.65" y="2335.75" width="7.334" height="7.334"/><rect x="796.98" y="2335.75" width="7.334" height="7.334"/><rect x="811.65" y="2335.75" width="7.334" height="7.334"/><rect x="826.32" y="2335.75" width="7.334" height="7.334"/><rect x="848.32" y="2335.75" width="7.334" height="7.334"/><rect x="650.30" y="2343.08" width="7.334" height="7.334"/><rect x="694.30" y="2343.08" width="7.334" height="7.334"/><rect x="708.97" y="2343.08" width="7.334" height="7.334"/><rect x="716.31" y="2343.08" width="7.334" height="7.334"/><rect x="723.64" y="2343.08" width="7.334" height="7.334"/><rect x="730.97" y="2343.08" width="7.334" height="7.334"/><rect x="767.64" y="2343.08" width="7.334" height="7.334"/><rect x="782.31" y="2343.08" width="7.334" height="7.334"/><rect x="796.98" y="2343.08" width="7.334" height="7.334"/><rect x="826.32" y="2343.08" width="7.334" height="7.334"/><rect x="833.65" y="2343.08" width="7.334" height="7.334"/><rect x="855.65" y="2343.08" width="7.334" height="7.334"/><rect x="650.30" y="2350.42" width="7.334" height="7.334"/><rect x="664.97" y="2350.42" width="7.334" height="7.334"/><rect x="672.30" y="2350.42" width="7.334" height="7.334"/><rect x="679.64" y="2350.42" width="7.334" height="7.334"/><rect x="694.30" y="2350.42" width="7.334" height="7.334"/><rect x="708.97" y="2350.42" width="7.334" height="7.334"/><rect x="730.97" y="2350.42" width="7.334" height="7.334"/><rect x="782.31" y="2350.42" width="7.334" height="7.334"/><rect x="796.98" y="2350.42" width="7.334" height="7.334"/><rect x="804.31" y="2350.42" width="7.334" height="7.334"/><rect x="811.65" y="2350.42" width="7.334" height="7.334"/><rect x="818.98" y="2350.42" width="7.334" height="7.334"/><rect x="826.32" y="2350.42" width="7.334" height="7.334"/><rect x="833.65" y="2350.42" width="7.334" height="7.334"/><rect x="840.98" y="2350.42" width="7.334" height="7.334"/><rect x="855.65" y="2350.42" width="7.334" height="7.334"/><rect x="650.30" y="2357.75" width="7.334" height="7.334"/><rect x="664.97" y="2357.75" width="7.334" height="7.334"/><rect x="672.30" y="2357.75" width="7.334" height="7.334"/><rect x="679.64" y="2357.75" width="7.334" height="7.334"/><rect x="694.30" y="2357.75" width="7.334" height="7.334"/><rect x="708.97" y="2357.75" width="7.334" height="7.334"/><rect x="730.97" y="2357.75" width="7.334" height="7.334"/><rect x="738.31" y="2357.75" width="7.334" height="7.334"/><rect x="745.64" y="2357.75" width="7.334" height="7.334"/><rect x="752.98" y="2357.75" width="7.334" height="7.334"/><rect x="760.31" y="2357.75" width="7.334" height="7.334"/><rect x="774.98" y="2357.75" width="7.334" height="7.334"/><rect x="782.31" y="2357.75" width="7.334" height="7.334"/><rect x="804.31" y="2357.75" width="7.334" height="7.334"/><rect x="811.65" y="2357.75" width="7.334" height="7.334"/><rect x="818.98" y="2357.75" width="7.334" height="7.334"/><rect x="650.30" y="2365.08" width="7.334" height="7.334"/><rect x="664.97" y="2365.08" width="7.334" height="7.334"/><rect x="672.30" y="2365.08" width="7.334" height="7.334"/><rect x="679.64" y="2365.08" width="7.334" height="7.334"/><rect x="694.30" y="2365.08" width="7.334" height="7.334"/><rect x="708.97" y="2365.08" width="7.334" height="7.334"/><rect x="716.31" y="2365.08" width="7.334" height="7.334"/><rect x="723.64" y="2365.08" width="7.334" height="7.334"/><rect x="752.98" y="2365.08" width="7.334" height="7.334"/><rect x="774.98" y="2365.08" width="7.334" height="7.334"/><rect x="811.65" y="2365.08" width="7.334" height="7.334"/><rect x="840.98" y="2365.08" width="7.334" height="7.334"/><rect x="650.30" y="2372.42" width="7.334" height="7.334"/><rect x="694.30" y="2372.42" width="7.334" height="7.334"/><rect x="708.97" y="2372.42" width="7.334" height="7.334"/><rect x="716.31" y="2372.42" width="7.334" height="7.334"/><rect x="738.31" y="2372.42" width="7.334" height="7.334"/><rect x="767.64" y="2372.42" width="7.334" height="7.334"/><rect x="789.65" y="2372.42" width="7.334" height="7.334"/><rect x="833.65" y="2372.42" width="7.334" height="7.334"/><rect x="840.98" y="2372.42" width="7.334" height="7.334"/><rect x="650.30" y="2379.75" width="7.334" height="7.334"/><rect x="657.63" y="2379.75" width="7.334" height="7.334"/><rect x="664.97" y="2379.75" width="7.334" height="7.334"/><rect x="672.30" y="2379.75" width="7.334" height="7.334"/><rect x="679.64" y="2379.75" width="7.334" height="7.334"/><rect x="686.97" y="2379.75" width="7.334" height="7.334"/><rect x="694.30" y="2379.75" width="7.334" height="7.334"/><rect x="716.31" y="2379.75" width="7.334" height="7.334"/><rect x="723.64" y="2379.75" width="7.334" height="7.334"/><rect x="745.64" y="2379.75" width="7.334" height="7.334"/><rect x="752.98" y="2379.75" width="7.334" height="7.334"/><rect x="760.31" y="2379.75" width="7.334" height="7.334"/><rect x="774.98" y="2379.75" width="7.334" height="7.334"/><rect x="782.31" y="2379.75" width="7.334" height="7.334"/><rect x="796.98" y="2379.75" width="7.334" height="7.334"/><rect x="804.31" y="2379.75" width="7.334" height="7.334"/><rect x="811.65" y="2379.75" width="7.334" height="7.334"/><rect x="818.98" y="2379.75" width="7.334" height="7.334"/><rect x="840.98" y="2379.75" width="7.334" height="7.334"/><rect x="855.65" y="2379.75" width="7.334" height="7.334"/></g>
<rect x="722.7" y="2245.8" width="67.6" height="67.5" rx="7.5" fill="#fff"/>
<rect x="729.6" y="2253" width="54.9" height="54.9" rx="12" fill="#5A83E9"/>
<circle cx="756.9" cy="2281" r="13.75" fill="none" stroke="#fff" stroke-width="4.6"/>
<path d="M752.2,2276.2 C757,2277.2 763,2279.5 768.6,2283.6 L760.6,2292.6 C756.5,2287 753.2,2281 752.2,2276.2 Z" fill="#fff"/>
<circle cx="767" cy="2291" r="7.2" fill="#5A83E9"/>
<path d="M771.8,2295.8 L764.1,2291.38 A2.4,2.4 0 1 1 767.38,2288.1 Z" fill="#F6B535"/>
</svg>

</div>
</body>
</html>
